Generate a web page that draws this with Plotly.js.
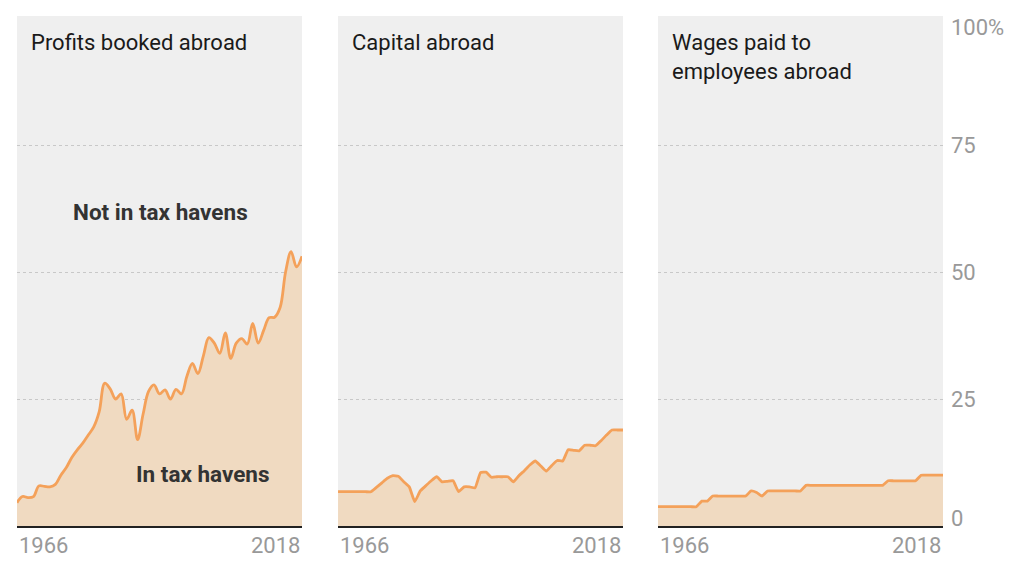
<!DOCTYPE html>
<html><head><meta charset="utf-8">
<script src="https://cdn.plot.ly/plotly-3.0.1.min.js"></script>
<style>html,body{margin:0;padding:0;background:#fff}#chart{width:1024px;height:570px}</style>
</head><body><div id="chart"></div>
<script>
const years = [];
for (let y = 1966; y <= 2018; y++) years.push(y);

const panelTitles = ["Profits booked abroad", "Capital abroad", "Wages paid to<br>employees abroad"];

const profitsHavens = [4.6,5.8,5.6,5.8,7.9,7.8,7.7,8.2,10,11.5,13.5,15,16.3,17.9,19.5,22.5,28.1,27,25,26,21,22.8,17,22,26.5,27.8,26,26.8,25,26.9,26,29.5,32,30,33.5,37.1,36,34,38,33,36,36.9,35.8,39.9,36,38.5,41,41.1,43,50,54,51,53.1];
const capitalHavens = [6.75,6.75,6.75,6.75,6.75,6.75,6.75,7.6,8.5,9.4,9.9,9.8,8.7,7.7,4.8,6.9,7.9,8.9,9.7,8.7,8.8,8.9,6.75,7.7,7.7,7.5,10.5,10.6,9.6,9.7,9.7,9.7,8.7,9.9,10.9,12,12.8,11.8,10.8,11.9,12.9,12.8,15,14.9,14.8,15.9,15.9,15.8,16.8,17.9,18.9,18.9,18.9];
const wagesHavens = [3.8,3.8,3.8,3.8,3.8,3.8,3.8,3.8,4.9,4.9,5.9,5.9,5.9,5.9,5.9,5.9,5.9,6.9,6.6,5.9,6.9,6.9,6.9,6.9,6.9,6.9,6.9,8,8,8,8,8,8,8,8,8,8,8,8,8,8,8,8.9,8.9,8.9,8.9,8.9,8.9,10,10,10,10,10];

const yTickVals = [0, 25, 50, 75, 100];
const yTickText = ["0", "25", "50", "75", "100%"];
const xTickVals = [1966, 2018];
const xTickText = ["1966", "2018"];

const FONT = "Roboto, 'Liberation Sans', sans-serif";
const LINE = "#f4a15a";
const FILL = "#f0dac1";
const series = [profitsHavens, capitalHavens, wagesHavens];
const domains = [[0, 0.3078], [0.3467, 0.6544], [0.6922, 1]];

const traces = series.map((vals, i) => ({
  x: years, y: vals, type: "scatter", mode: "lines",
  xaxis: i === 0 ? "x" : "x" + (i + 1),
  yaxis: i === 0 ? "y" : "y" + (i + 1),
  line: {color: LINE, width: 2.8, shape: "spline", smoothing: i === 0 ? 1 : 0.4},
  fill: "tozeroy", fillcolor: FILL, hoverinfo: "skip"
}));

const layout = {
  width: 1024, height: 570,
  margin: {l: 17, r: 81, t: 16, b: 44},
  paper_bgcolor: "#ffffff", plot_bgcolor: "#efefef",
  showlegend: false,
  font: {family: FONT, color: "#222"},
  annotations: []
};

for (let i = 0; i < 3; i++) {
  const s = i === 0 ? "" : String(i + 1);
  layout["xaxis" + s] = {
    domain: domains[i], range: [1966, 2018], anchor: "y" + s,
    showgrid: false, zeroline: false, showticklabels: false, ticks: "",
    showline: true, linecolor: "#222", linewidth: 1.6, fixedrange: true
  };
  layout["yaxis" + s] = {
    domain: [0, 1], range: [0, 100.4], anchor: "x" + s,
    tickvals: [25, 50, 75], showticklabels: false, ticks: "",
    showgrid: true, gridcolor: "#c8c8c8", gridwidth: 1, griddash: "dot",
    zeroline: false, showline: false, fixedrange: true
  };
  layout.annotations.push({
    xref: "x" + s + " domain", yref: "paper", x: 0, y: 1, xanchor: "left", yanchor: "top",
    xshift: 12, yshift: -12, align: "left", showarrow: false,
    text: panelTitles[i], font: {family: FONT, size: 22, color: "#1a1a1a"}
  });
  xTickVals.forEach((v, k) => {
    layout.annotations.push({
      xref: "x" + s, yref: "paper", x: v, y: 0, xanchor: k === 0 ? "left" : "right", yanchor: "top",
      yshift: -5, showarrow: false, text: xTickText[k],
      font: {family: FONT, size: 22, color: "#999"}
    });
  });
}

yTickVals.forEach((v, k) => {
  layout.annotations.push({
    xref: "paper", yref: "y3", x: 1, y: v, xanchor: "left", yanchor: "middle",
    xshift: 6, yshift: v === 0 ? 8 : (v === 100 ? -9 : 0), showarrow: false, text: yTickText[k],
    font: {family: FONT, size: 22, color: "#999"}
  });
});

layout.annotations.push({
  xref: "x", yref: "y", x: 1992.1, y: 61.8, xanchor: "center", yanchor: "middle",
  showarrow: false, text: "<b>Not in tax havens</b>", font: {family: FONT, size: 22.5, color: "#333"}
});
layout.annotations.push({
  xref: "x", yref: "y", x: 1999.9, y: 10.2, xanchor: "center", yanchor: "middle",
  showarrow: false, text: "<b>In tax havens</b>", font: {family: FONT, size: 22.5, color: "#333"}
});

Plotly.newPlot("chart", traces, layout, {staticPlot: true, displayModeBar: false});
</script></body></html>
